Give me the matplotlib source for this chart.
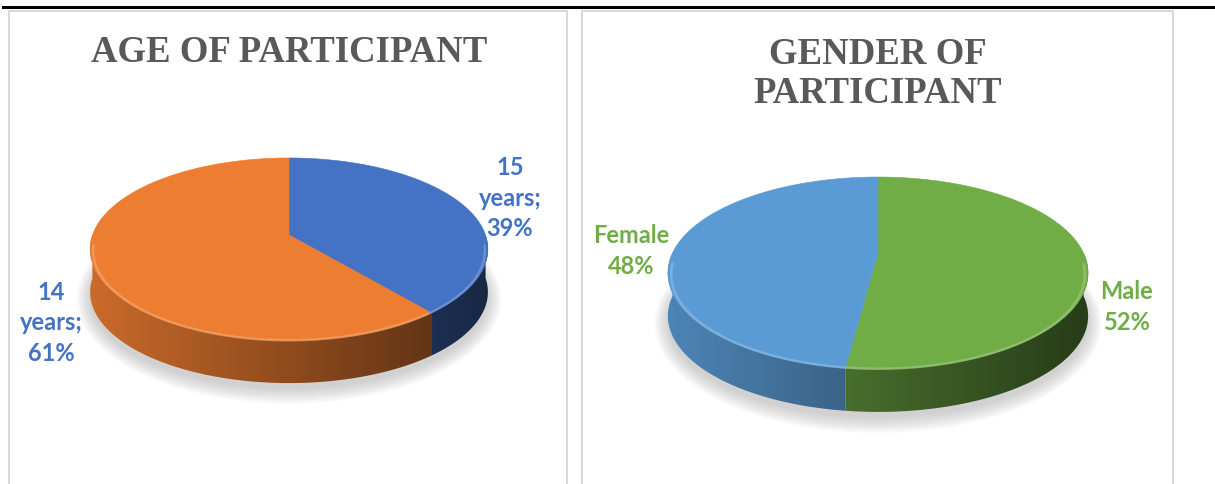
import numpy as np
import matplotlib.pyplot as plt
from matplotlib.patches import Polygon
import matplotlib.colors as mcolors

# chart data
age_labels = ["15 years", "14 years"]
age_values = [39, 61]
age_colors = ["#4472C4", "#ED7D31"]

gender_labels = ["Male", "Female"]
gender_values = [52, 48]
gender_colors = ["#70AD47", "#5B9BD5"]

W, H = 1215, 484
fig = plt.figure(figsize=(W / 100, H / 100), dpi=100)
ax = fig.add_axes([0, 0, 1, 1])
ax.set_xlim(0, W)
ax.set_ylim(H, 0)
ax.axis("off")

PX = 72 / 100  # points per pixel


def shade(color, f):
    r, g, b = mcolors.to_rgb(color)
    return (r * f, g * f, b * f)


def lighten(color, f):
    r, g, b = mcolors.to_rgb(color)
    return (r + (1 - r) * f, g + (1 - g) * f, b + (1 - b) * f)


def project(u, v, p):
    # flat disk seen in perspective, v points to the back
    s = 1 + p["k"] * v
    return p["cx"] + p["a"] * u / s, p["cy"] - p["c"] * v / s


def wedge_angles(values):
    helper = fig.add_axes([0, 0, 0.01, 0.01])
    wedges, _ = helper.pie(values, startangle=90, counterclock=False)
    angles = [(w.theta1, w.theta2) for w in wedges]
    helper.remove()
    return angles


def draw_pie(values, colors, p):
    angles = wedge_angles(values)
    t = np.linspace(0, 2 * np.pi, 300)

    # soft shadow under the pie
    bx, by = project(np.cos(t), np.sin(t), p)
    by = by + p["depth"]
    mx, my = bx.mean(), by.mean()
    for grow in np.linspace(13, 0, 10):
        sx = mx + (bx - mx) * (1 + grow / p["a"])
        sy = my + 6 + (by - my) * (1 + grow / p["c"])
        ax.add_patch(Polygon(np.column_stack([sx, sy]), closed=True, zorder=1,
                             facecolor="#9a9a9a", edgecolor="none", alpha=0.05))

    # side of the pie, a horizontal gradient clipped to each slice's wall
    xs = np.linspace(p["cx"] - p["a"] * 1.05, p["cx"] + p["a"] * 1.05, 500)
    u = np.clip((xs - p["cx"]) / p["a"], -1, 1)
    f = 0.85 - 0.25 * (u + 1)
    ytop = p["cy"] - p["c"]
    ybot = p["cy"] + p["c"] / (1 - p["k"]) + p["depth"] + 2
    for (t1, t2), col in zip(angles, colors):
        th = np.radians(np.linspace(t1, t2, 400))
        th = th[np.sin(th) <= 1e-9]
        if len(th) < 2:
            continue
        rx, ry = project(np.cos(th), np.sin(th), p)
        verts = np.concatenate([np.column_stack([rx, ry]),
                                np.column_stack([rx[::-1], ry[::-1] + p["depth"]])])
        wall = Polygon(verts, closed=True, facecolor="none", edgecolor="none")
        ax.add_patch(wall)
        img = np.array([shade(col, fi) for fi in f])[None, :, :]
        ax.imshow(img, extent=(xs[0], xs[-1], ybot, ytop), aspect="auto",
                  interpolation="bilinear", clip_path=wall, zorder=2)

    # top face
    for (t1, t2), col in zip(angles, colors):
        th = np.radians(np.linspace(t1, t2, 300))
        uu = np.concatenate([[0], np.cos(th)])
        vv = np.concatenate([[0], np.sin(th)])
        x, y = project(uu, vv, p)
        ax.add_patch(Polygon(np.column_stack([x, y]), closed=True, zorder=3,
                             facecolor=col, edgecolor=col, lw=0.4))
        # bevel highlight on the front rim
        front = np.sin(th) < -0.08
        if front.any():
            hx, hy = project(np.cos(th[front]) * 0.985, np.sin(th[front]) * 0.985, p)
            ax.plot(hx, hy + 2, color=lighten(col, 0.25), lw=2.5 * PX,
                    alpha=0.8, solid_capstyle="butt", zorder=4)


# page frame
ax.plot([3, W], [7, 7], color="black", lw=3 * PX)
grey = "#D9D9D9"
for x0, x1 in [(9, 567), (582, 1173)]:
    ax.plot([x0, x0, x1, x1], [H, 11, 11, H], color=grey, lw=2 * PX)

title_style = dict(family="Liberation Serif", weight="bold", color="#595959",
                   fontsize=26.5, ha="center", va="center")
ax.text(289, 52, "AGE OF PARTICIPANT", **title_style)
ax.text(878, 74, "GENDER OF\nPARTICIPANT", linespacing=1.12, **title_style)

age_pie = dict(cx=289, cy=235, a=196.5, c=88.9, k=0.154, depth=43)
gender_pie = dict(cx=878, cy=253, a=205.5, c=91.8, k=0.208, depth=43)
draw_pie(age_values, age_colors, age_pie)
draw_pie(gender_values, gender_colors, gender_pie)

label_style = dict(family=["Lato", "DejaVu Sans"], weight="bold", fontsize=17,
                   ha="center", va="center", linespacing=1.4, zorder=5)
age_pos = [(510, 198), (51, 323)]
for lab, val, (x, y) in zip(age_labels, age_values, age_pos):
    ax.text(x, y, lab.replace(" ", "\n") + f";\n{val}%", color="#4472C4", **label_style)

gender_pos = [(1127, 307), (631, 251)]
for lab, val, (x, y) in zip(gender_labels, gender_values, gender_pos):
    ax.text(x, y, f"{lab}\n{val}%", color="#70AD47", **label_style)

fig.savefig("out.png", dpi=100)
